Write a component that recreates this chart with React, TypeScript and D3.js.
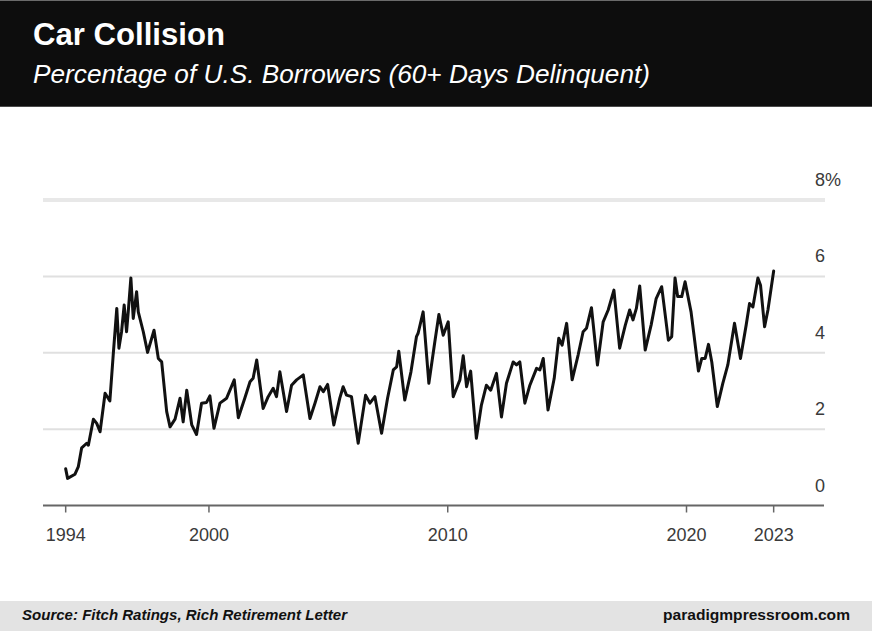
import React from "react";
import * as d3 from "d3";

// month position as decimal year
const dates = [
  1994.0, 1994.08, 1994.39, 1994.53, 1994.67, 1994.88, 1994.95, 1995.16, 1995.3, 1995.44,
  1995.65, 1995.85, 1995.99, 1996.14, 1996.23, 1996.34, 1996.45, 1996.55, 1996.62, 1996.73,
  1996.83, 1996.97, 1997.04, 1997.25, 1997.43, 1997.7, 1997.88, 1998.02, 1998.23, 1998.37,
  1998.58, 1998.79, 1998.92, 1999.07, 1999.28, 1999.48, 1999.69, 1999.9, 2000.04, 2000.21,
  2000.46, 2000.74, 2001.06, 2001.23, 2001.5, 2001.72, 2001.85, 2002.0, 2002.27, 2002.48,
  2002.69, 2002.83, 2002.97, 2003.25, 2003.46, 2003.67, 2003.95, 2004.23, 2004.44, 2004.65,
  2004.79, 2004.97, 2005.23, 2005.48, 2005.62, 2005.76, 2005.97, 2006.25, 2006.56, 2006.74,
  2006.95, 2007.23, 2007.48, 2007.72, 2007.86, 2007.95, 2008.2, 2008.46, 2008.69, 2008.76,
  2008.97, 2009.21, 2009.46, 2009.63, 2009.81, 2010.02, 2010.23, 2010.37, 2010.51, 2010.65,
  2010.79, 2010.96, 2011.2, 2011.41, 2011.62, 2011.8, 2012.04, 2012.25, 2012.46, 2012.74,
  2012.88, 2013.02, 2013.23, 2013.44, 2013.72, 2013.86, 2014.0, 2014.2, 2014.46, 2014.65,
  2014.79, 2014.98, 2015.21, 2015.46, 2015.67, 2015.81, 2016.02, 2016.27, 2016.51, 2016.72,
  2016.96, 2017.2, 2017.44, 2017.62, 2017.76, 2017.9, 2018.04, 2018.27, 2018.52, 2018.73,
  2018.96, 2019.24, 2019.38, 2019.52, 2019.63, 2019.8, 2019.94, 2020.19, 2020.33, 2020.5,
  2020.64, 2020.78, 2020.92, 2021.06, 2021.29, 2021.52, 2021.73, 2022.01, 2022.26, 2022.5,
  2022.64, 2022.78, 2022.99, 2023.1, 2023.27, 2023.41, 2023.65,
];

// % of borrowers 60+ days delinquent
const delinquent = [
  0.96, 0.71, 0.82, 1.02, 1.51, 1.63, 1.58, 2.26, 2.15, 1.93,
  2.94, 2.74, 3.94, 5.16, 4.12, 4.55, 5.25, 4.55, 5.07, 5.96,
  4.9, 5.6, 5.07, 4.55, 4.01, 4.59, 3.85, 3.76, 2.46, 2.06,
  2.26, 2.81, 2.19, 3.02, 2.11, 1.86, 2.68, 2.7, 2.87, 2.02,
  2.68, 2.81, 3.29, 2.3, 2.81, 3.24, 3.33, 3.81, 2.54, 2.85,
  3.07, 2.85, 3.5, 2.46, 3.15, 3.29, 3.42, 2.28, 2.68, 3.11,
  2.98, 3.17, 2.11, 2.81, 3.11, 2.89, 2.85, 1.63, 2.89, 2.68,
  2.85, 1.89, 2.81, 3.55, 3.63, 4.04, 2.76, 3.5, 4.42, 4.51,
  5.07, 3.2, 4.29, 5.0, 4.46, 4.81, 2.85, 3.07, 3.29, 3.92,
  3.11, 3.52, 1.76, 2.63, 3.15, 3.02, 3.46, 2.32, 3.2, 3.76,
  3.68, 3.76, 2.68, 3.15, 3.59, 3.55, 3.85, 2.5, 3.33, 4.38,
  4.2, 4.77, 3.29, 3.94, 4.55, 4.64, 5.18, 3.68, 4.81, 5.12,
  5.64, 4.12, 4.73, 5.12, 4.86, 5.16, 5.75, 4.07, 4.73, 5.42,
  5.73, 4.33, 4.42, 5.96, 5.47, 5.47, 5.86, 5.07, 4.38, 3.52,
  3.85, 3.85, 4.22, 3.75, 2.59, 3.2, 3.68, 4.77, 3.85, 4.73,
  5.29, 5.2, 5.96, 5.77, 4.68, 5.12, 6.14,
];

const xTickValues = [1994, 2000, 2010, 2020, 2023.65];
const xTickLabels = ["1994", "2000", "2010", "2020", "2023"];
const yTickValues = [0, 2, 4, 6, 8];
const yTickLabels = ["0", "2", "4", "6", "8%"];

const W = 872;
const H = 631;
const FONT = "'Liberation Sans', Arial, Helvetica, sans-serif";

export default function App() {
  const x = d3.scaleLinear().domain([1993.05, 2025.8]).range([43, 825]);
  const y = d3.scaleLinear().domain([0, 8]).range([505.5, 200]);

  const line = d3
    .line<number>()
    .x((_, i) => x(dates[i]))
    .y((d) => y(d));

  return (
    <div style={{ position: "absolute", left: 0, top: 0 }}>
      <svg width={W} height={H} style={{ display: "block", background: "#fff" }}>
        {/* header */}
        <rect x={0} y={0} width={W} height={107} fill="#0d0d0d" />
        <line x1={0} x2={W} y1={0.5} y2={0.5} stroke="#6a6a6a" />
        <line x1={0} x2={W} y1={106.5} y2={106.5} stroke="#4a4a4a" />
        <text
          x={33}
          y={45}
          fill="#fff"
          fontFamily={FONT}
          fontWeight="bold"
          fontSize={31}
          textLength={192}
          lengthAdjust="spacingAndGlyphs"
        >
          Car Collision
        </text>
        <text
          x={33}
          y={83}
          fill="#fff"
          fontFamily={FONT}
          fontStyle="italic"
          fontSize={26}
          textLength={617}
          lengthAdjust="spacingAndGlyphs"
        >
          Percentage of U.S. Borrowers (60+ Days Delinquent)
        </text>

        {/* grid */}
        {yTickValues.map((v) =>
          v === 0 ? null : (
            <line
              key={"g" + v}
              x1={43}
              x2={825}
              y1={y(v)}
              y2={y(v)}
              stroke={v === 8 ? "#e8e8e8" : "#e0e0e0"}
              strokeWidth={v === 8 ? 4 : 2}
            />
          )
        )}
        {yTickValues.map((v, i) => (
          <text
            key={"yl" + v}
            x={815}
            y={y(v) - 14}
            fill="#3a3a3a"
            fontFamily={FONT}
            fontSize={18}
          >
            {yTickLabels[i]}
          </text>
        ))}

        {/* x axis */}
        <line x1={43} x2={824} y1={y(0)} y2={y(0)} stroke="#666" strokeWidth={2} />
        {xTickValues.map((v, i) => (
          <g key={"xt" + i}>
            <line x1={x(v)} x2={x(v)} y1={y(0)} y2={y(0) + 7} stroke="#666" strokeWidth={1.5} />
            <text
              x={x(v)}
              y={541}
              textAnchor="middle"
              fill="#3a3a3a"
              fontFamily={FONT}
              fontSize={18}
            >
              {xTickLabels[i]}
            </text>
          </g>
        ))}

        {/* series */}
        <path
          d={line(delinquent) || ""}
          fill="none"
          stroke="#111"
          strokeWidth={3}
          strokeLinejoin="round"
          strokeLinecap="round"
        />

        {/* footer */}
        <rect x={0} y={601} width={W} height={30} fill="#e3e3e3" />
        <text
          x={22}
          y={620}
          fill="#111"
          fontFamily={FONT}
          fontWeight="bold"
          fontStyle="italic"
          fontSize={15}
          textLength={325}
          lengthAdjust="spacingAndGlyphs"
        >
          Source: Fitch Ratings, Rich Retirement Letter
        </text>
        <text
          x={850}
          y={620}
          textAnchor="end"
          fill="#111"
          fontFamily={FONT}
          fontWeight="bold"
          fontSize={15}
          textLength={187}
          lengthAdjust="spacingAndGlyphs"
        >
          paradigmpressroom.com
        </text>
      </svg>
    </div>
  );
}
